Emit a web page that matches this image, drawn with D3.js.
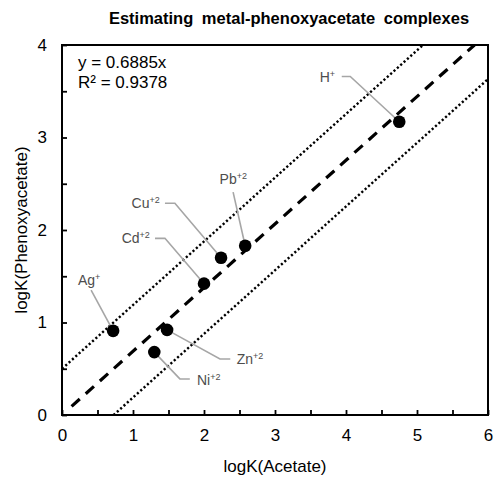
<!DOCTYPE html>
<html><head><meta charset="utf-8">
<script src="https://cdn.jsdelivr.net/npm/d3@7"></script>
<style>body{margin:0;background:#fff}svg{display:block}text{font-family:"Liberation Sans",Arial,sans-serif}</style>
</head><body><svg id="c" width="498" height="477"></svg>
<script>
// ---- data ----
const ions = ["Ag", "Ni", "Zn", "Cd", "Cu", "Pb", "H"];
const charges = ["+", "+2", "+2", "+2", "+2", "+2", "+"];
const logKAcetate = [0.72, 1.30, 1.48, 2.00, 2.24, 2.58, 4.75];
const logKPhenoxy = [0.91, 0.68, 0.92, 1.42, 1.70, 1.83, 3.17];
const slope = 0.6885;
const band = 0.5;
const xTicks = [0, 1, 2, 3, 4, 5, 6];
const yTicks = [0, 1, 2, 3, 4];
const eqText = ["y = 0.6885x", "R² = 0.9378"];
const titleText = "Estimating metal-phenoxyacetate complexes";
const xTitle = "logK(Acetate)";
const yTitle = "logK(Phenoxyacetate)";
// label layout (data units): text left/center, leader path from label to point
const labelAt = [[0.225,1.46],[1.90,0.378],[2.46,0.605],[0.84,1.91],[0.98,2.29],[2.22,2.55],[3.63,3.65]];
const leaderVia = [[[0.41,1.35]],[[1.80,0.39],[1.66,0.39]],[[2.37,0.605],[2.225,0.605]],[[1.31,1.91],[1.45,1.91]],[[1.45,2.29],[1.59,2.29]],[[2.41,2.41]],[[3.94,3.66],[4.06,3.66]]];

const svg = d3.select("#c");
const L = 62, R = 488, T = 45, B = 415;
const x = d3.scaleLinear().domain([0, 6]).range([L, R]);
const y = d3.scaleLinear().domain([0, 4]).range([B, T]);

svg.append("clipPath").attr("id","clip").append("rect")
  .attr("x", L).attr("y", T).attr("width", R-L).attr("height", B-T);

// title
svg.append("text").attr("x", 289).attr("y", 24).attr("text-anchor","middle")
  .attr("font-size", 16.5).attr("font-weight","bold").attr("fill","#000")
  .attr("word-spacing", 4).text(titleText);

// ticks (inside)
const xt = d3.axisTop(x).tickValues(d3.range(0, 6.01, 0.5)).tickSize(5).tickFormat("");
const gx = svg.append("g").attr("transform",`translate(0,${B})`).call(xt);
const yt = d3.axisRight(y).tickValues(d3.range(0, 4.01, 0.5)).tickSize(5).tickFormat("");
const gy = svg.append("g").attr("transform",`translate(${L},0)`).call(yt);
[gx, gy].forEach(g => { g.select(".domain").remove(); g.selectAll("line").attr("stroke","#000").attr("stroke-width",1.8); });

// tick labels
const xb = d3.axisBottom(x).tickValues(xTicks).tickSize(0).tickPadding(14).tickFormat(d3.format("d"));
const gxb = svg.append("g").attr("transform",`translate(0,${B})`).call(xb);
const yl = d3.axisLeft(y).tickValues(yTicks).tickSize(0).tickPadding(15).tickFormat(d3.format("d"));
const gyl = svg.append("g").attr("transform",`translate(${L},0)`).call(yl);
[gxb, gyl].forEach(g => { g.select(".domain").remove(); g.selectAll("text").attr("font-size",17).attr("fill","#000").attr("font-family","Liberation Sans, Arial, sans-serif"); });

// frame
svg.append("rect").attr("x",L).attr("y",T).attr("width",R-L).attr("height",B-T)
  .attr("fill","none").attr("stroke","#000").attr("stroke-width",2);

// axis titles
svg.append("text").attr("x",(L+R)/2).attr("y",472).attr("text-anchor","middle")
  .attr("font-size",17).attr("fill","#000").text(xTitle);
svg.append("text").attr("transform",`translate(27,${(T+B)/2}) rotate(-90)`).attr("text-anchor","middle")
  .attr("font-size",17).attr("fill","#000").text(yTitle);

// lines
const g = svg.append("g").attr("clip-path","url(#clip)");
const line = d3.line().x(d => x(d[0])).y(d => y(d[1]));
g.append("path").attr("d", line([[(band)/slope, 0],[6, 6*slope-band]]))
  .attr("fill","none").attr("stroke","#000").attr("stroke-width",2.4).attr("stroke-dasharray","2.2,2.3");
g.append("path").attr("d", line([[0, band],[(4-band)/slope, 4]]))
  .attr("fill","none").attr("stroke","#000").attr("stroke-width",2.4).attr("stroke-dasharray","2.2,2.3");
g.append("path").attr("d", line([[0.135, 0.135*slope],[4/slope, 4]]))
  .attr("fill","none").attr("stroke","#000").attr("stroke-width",3.2).attr("stroke-dasharray","11,8");

// eq text
svg.append("text").attr("x",78).attr("y",68).attr("font-size",17).attr("fill","#000").text(eqText[0]);
svg.append("text").attr("x",78).attr("y",88).attr("font-size",17).attr("fill","#000").text(eqText[1]);

// leaders
ions.forEach((ion, i) => {
  const pts = leaderVia[i].concat([[logKAcetate[i], logKPhenoxy[i]]]);
  svg.append("path").attr("d", line(pts)).attr("fill","none").attr("stroke","#a6a6a6").attr("stroke-width",1.6);
});
// points
svg.selectAll("circle.pt").data(ions).join("circle").attr("class","pt")
  .attr("cx",(d,i)=>x(logKAcetate[i])).attr("cy",(d,i)=>y(logKPhenoxy[i])).attr("r",6.3).attr("fill","#000");
// labels
ions.forEach((ion, i) => {
  const t = svg.append("text").attr("x", x(labelAt[i][0])).attr("y", y(labelAt[i][1]) + 5)
    .attr("font-size",14).attr("fill","#4d4d4d");
  t.append("tspan").text(ion);
  t.append("tspan").attr("font-size",9).attr("dy",-5).text(charges[i]);
});
</script></body></html>
